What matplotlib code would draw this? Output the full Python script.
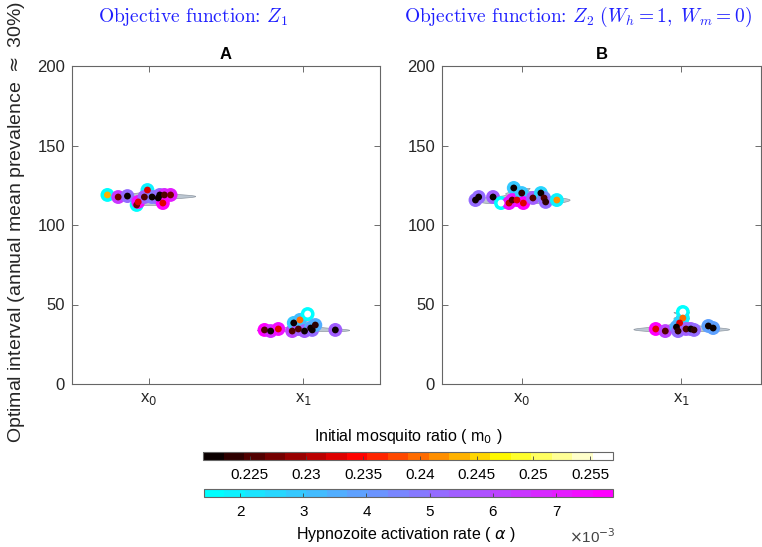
import numpy as np
import matplotlib.pyplot as plt
from matplotlib import colors, cm

plt.rcParams['font.family'] = ['Liberation Sans', 'DejaVu Sans']

# tick labels of the two groups
group_labels = ['x$_0$', 'x$_1$']

# Panel A, group x0 : horizontal jitter, interval, alpha (x1e-3), m0
a0_jit = [-0.27, -0.20, -0.14, -0.08, -0.07, -0.01, -0.03, 0.02, 0.06, 0.07, 0.10, 0.14, 0.09]
a0_y = [118.9, 117.6, 118.2, 112.6, 114.5, 122.0, 117.6, 117.6, 117.0, 118.9, 118.9, 118.9, 113.8]
a0_alpha = [1.5, 6.5, 5.0, 1.7, 7.5, 2.0, 5.5, 4.8, 5.2, 5.0, 6.8, 7.2, 7.6]
a0_m0 = [0.243, 0.227, 0.221, 0.228, 0.232, 0.232, 0.226, 0.221, 0.222, 0.222, 0.226, 0.228, 0.233]

# Panel A, group x1
a1_jit = [-0.25, -0.21, -0.16, -0.07, -0.06, -0.03, -0.02, 0.03, 0.01, 0.05, 0.06, 0.08, 0.21]
a1_y = [34.0, 33.3, 34.6, 33.3, 38.4, 34.6, 40.3, 44.0, 33.3, 35.2, 34.0, 37.1, 34.0]
a1_alpha = [7.6, 6.8, 7.5, 6.0, 3.0, 5.5, 3.2, 1.5, 5.5, 3.5, 5.0, 3.5, 5.5]
a1_m0 = [0.226, 0.221, 0.233, 0.226, 0.221, 0.225, 0.240, 0.257, 0.221, 0.222, 0.221, 0.223, 0.221]

# Panel B, group x0
b0_jit = [-0.29, -0.27, -0.18, -0.13, -0.05, -0.08, -0.06, -0.03, 0.00, 0.01, 0.07, 0.12, 0.14, 0.15, 0.22]
b0_y = [115.7, 117.6, 117.6, 113.8, 123.3, 113.8, 115.7, 115.7, 120.1, 113.8, 117.0, 120.1, 117.0, 114.5, 115.7]
b0_alpha = [5.2, 5.0, 5.5, 1.5, 3.0, 7.5, 7.0, 7.3, 2.8, 7.6, 5.5, 2.5, 4.5, 5.0, 1.8]
b0_m0 = [0.221, 0.222, 0.221, 0.257, 0.221, 0.230, 0.226, 0.232, 0.224, 0.232, 0.226, 0.222, 0.226, 0.224, 0.242]

# Panel B, group x1
b1_jit = [-0.16, -0.10, 0.01, 0.01, -0.01, -0.03, -0.02, 0.03, 0.06, 0.08, 0.17, 0.20]
b1_y = [34.6, 33.3, 45.3, 41.5, 38.4, 35.8, 33.3, 34.6, 34.6, 34.0, 36.5, 35.2]
b1_alpha = [7.6, 6.0, 1.5, 2.0, 2.5, 3.5, 5.0, 5.5, 5.5, 5.0, 4.0, 3.8]
b1_m0 = [0.232, 0.226, 0.257, 0.240, 0.232, 0.221, 0.223, 0.226, 0.222, 0.224, 0.221, 0.222]

m0_range = (0.2209, 0.2570)
m0_ticks = [0.225, 0.23, 0.235, 0.24, 0.245, 0.25, 0.255]
m0_ticklabels = ['0.225', '0.23', '0.235', '0.24', '0.245', '0.25', '0.255']
alpha_range = (1.43, 7.9)
alpha_ticks = [2, 3, 4, 5, 6, 7]

hot = plt.get_cmap('hot').resampled(20)
cool = plt.get_cmap('cool').resampled(20)
m0_norm = colors.Normalize(*m0_range)
al_norm = colors.Normalize(*alpha_range)


def violin(ax, pos, ys, bw=1.0, width=0.3):
    ys = np.asarray(ys)
    grid = np.linspace(ys.min(), ys.max(), 200)
    d = np.exp(-0.5 * ((grid[:, None] - ys[None, :]) / bw) ** 2).sum(1)
    w = d / d.max() * width
    ax.fill_betweenx(grid, pos - w, pos + w, facecolor='#bcc7d2',
                     edgecolor='#9099a3', lw=0.5, zorder=1)


def draw_group(ax, pos, jit, ys, al, m0):
    violin(ax, pos, ys)
    xs = pos + np.asarray(jit)
    ax.scatter(xs, ys, s=100, c=al, cmap=cool, norm=al_norm, edgecolors='none', zorder=2)
    ax.scatter(xs, ys, s=24, c=m0, cmap=hot, norm=m0_norm, edgecolors='none', zorder=3)


fig = plt.figure(figsize=(7.62, 5.47), dpi=100)
axA = fig.add_axes([72 / 762, 163 / 547, 308 / 762, 318 / 547])
axB = fig.add_axes([442 / 762, 163 / 547, 319 / 762, 318 / 547])

draw_group(axA, 1, a0_jit, a0_y, a0_alpha, a0_m0)
draw_group(axA, 2, a1_jit, a1_y, a1_alpha, a1_m0)
draw_group(axB, 1, b0_jit, b0_y, b0_alpha, b0_m0)
draw_group(axB, 2, b1_jit, b1_y, b1_alpha, b1_m0)

for ax, name in [(axA, 'A'), (axB, 'B')]:
    ax.set_xlim(0.5, 2.5)
    ax.set_ylim(0, 200)
    ax.set_yticks([0, 50, 100, 150, 200])
    ax.set_xticks([1, 2])
    ax.set_xticklabels(group_labels)
    ax.tick_params(direction='in', top=True, right=True, length=4, width=0.6,
                   color='#555555', labelsize=12, pad=5, labelcolor='#262626')
    for sp in ax.spines.values():
        sp.set_color('#666666')
        sp.set_linewidth(0.8)
    ax.set_title(name, fontweight='bold', fontsize=12, pad=5)

fig.text(193 / 762, 1 - 17 / 547, 'Objective function: $Z_1$', fontfamily='cmr10',
         color='#1f1fff', fontsize=14, ha='center', va='center', math_fontfamily='cm')
fig.text(578 / 762, 1 - 17 / 547,
         r'Objective function: $Z_2\ (W_h=1,\ W_m=0)$', fontfamily='cmr10',
         color='#1f1fff', fontsize=14, ha='center', va='center', math_fontfamily='cm')

fig.text(17 / 762, 1 - 222 / 547,
         r'Optimal interval (annual mean prevalence $\approx$ 30%)',
         rotation=90, ha='center', va='center', fontsize=14, color='#262626')

# colorbars
cax1 = fig.add_axes([203 / 762, 87 / 547, 410 / 762, 8 / 547])
cb1 = fig.colorbar(cm.ScalarMappable(norm=m0_norm, cmap=hot), cax=cax1, orientation='horizontal')
cb1.set_ticks(m0_ticks)
cb1.set_ticklabels(m0_ticklabels)
cax1.tick_params(direction='in', length=3, width=0.6, labelsize=11, pad=6, color='#444444')
cb1.outline.set_edgecolor('#666666')
cb1.outline.set_linewidth(0.8)
fig.text(408 / 762, 1 - 436 / 547, 'Initial mosquito ratio ( m$_0$ )',
         ha='center', va='center', fontsize=11.5)

cax2 = fig.add_axes([204 / 762, 50 / 547, 409 / 762, 8 / 547])
cb2 = fig.colorbar(cm.ScalarMappable(norm=al_norm, cmap=cool), cax=cax2, orientation='horizontal')
cb2.set_ticks(alpha_ticks)
cax2.tick_params(direction='in', length=3, width=0.6, labelsize=11, pad=6, color='#444444')
cb2.outline.set_edgecolor('#666666')
cb2.outline.set_linewidth(0.8)
fig.text(406 / 762, 1 - 535 / 547, r'Hypnozoite activation rate ( $\alpha$ )',
         ha='center', va='center', fontsize=11.5)
fig.text(592 / 762, 1 - 537 / 547, r'$\times$10$^{-3}$', ha='center', va='center',
         fontsize=11, color='#444444')

fig.savefig('out.png', dpi=100)
